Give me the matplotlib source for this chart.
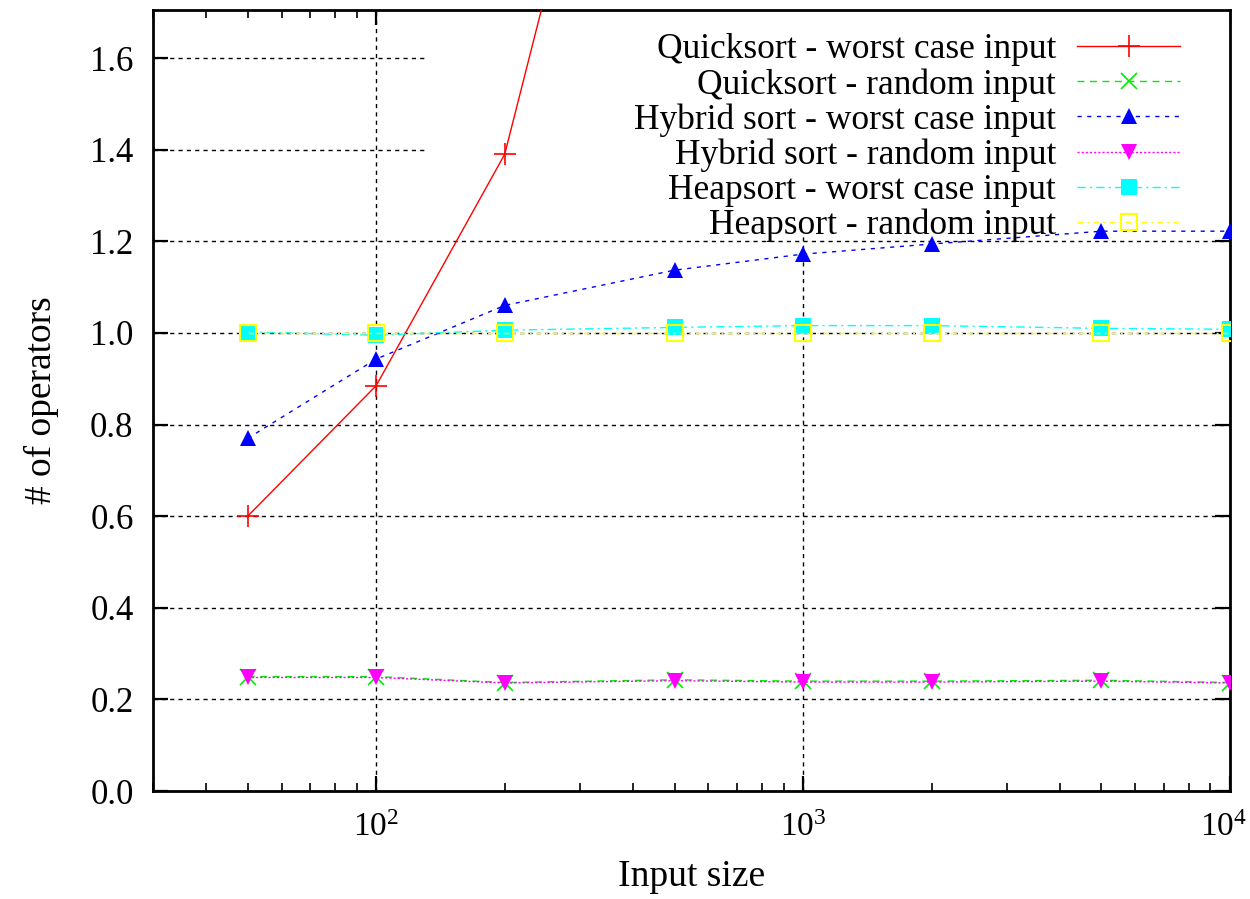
import matplotlib
matplotlib.use("Agg")
import matplotlib.pyplot as plt
import matplotlib.transforms as mtransforms
from matplotlib.patches import Rectangle

plt.rcParams['font.family'] = ['Liberation Serif', 'DejaVu Serif']
plt.rcParams['mathtext.fontset'] = 'custom'
plt.rcParams['mathtext.rm'] = 'Liberation Serif'
plt.rcParams['mathtext.it'] = 'Liberation Serif:italic'

sizes = [50, 100, 200, 500, 1000, 2000, 5000, 10000]
quick_worst = [0.60, 0.885, 1.39, 2.85, 5.1, 9.3, 21.0, 39.0]
quick_random = [0.25, 0.25, 0.237, 0.243, 0.240, 0.240, 0.242, 0.237]
hybrid_worst = [0.77, 0.943, 1.060, 1.137, 1.172, 1.194, 1.222, 1.222]
hybrid_random = [0.248, 0.248, 0.236, 0.241, 0.238, 0.238, 0.240, 0.236]
heap_worst = [1.002, 0.995, 1.006, 1.012, 1.016, 1.016, 1.010, 1.008]
heap_random = [1.0, 1.0, 1.0, 1.0, 1.0, 1.0, 1.0, 1.0]

labels = ["Quicksort - worst case input", "Quicksort - random input",
          "Hybrid sort - worst case input", "Hybrid sort - random input",
          "Heapsort - worst case input", "Heapsort - random input"]
yticks = [0.0, 0.2, 0.4, 0.6, 0.8, 1.0, 1.2, 1.4, 1.6]
xticks = [100, 1000, 10000]
xticklabels = [r"$10^2$", r"$10^3$", r"$10^4$"]

fig = plt.figure(figsize=(12.5, 8.99), dpi=100)
ax = fig.add_axes([0.1224, 0.120, 0.8616, 0.869])

ax.set_xscale('log')
ax.set_xlim(30, 10000)
ax.set_ylim(0, 1.705)

# grid
ax.set_axisbelow(True)
ax.grid(True, which='major', color='black', linestyle=(0, (3, 3)), linewidth=1.0)

# opaque key area
ax.add_patch(Rectangle((0.2525, 0.712), 0.7475, 0.288, transform=ax.transAxes,
                       facecolor='white', edgecolor='none', zorder=1))

lw = 1.0
ax.plot(sizes, quick_worst, color='#ff0000', linestyle='-', lw=lw, marker='+',
        markersize=16, markeredgewidth=1.2, label=labels[0], zorder=3)
ax.plot(sizes, quick_random, color='#00ee00', linestyle=(0, (5, 4)), lw=lw, marker='x',
        markersize=12, markeredgewidth=1.2, label=labels[1], zorder=3)
ax.plot(sizes, hybrid_worst, color='#0000ff', linestyle=(0, (3, 4)), lw=lw, marker='^',
        markersize=11, markeredgewidth=0, label=labels[2], zorder=3)
ax.plot(sizes, hybrid_random, color='#ff00ff', linestyle=(0, (1.5, 1.5)), lw=lw, marker='v',
        markersize=11, markeredgewidth=0, label=labels[3], zorder=3)
ax.plot(sizes, heap_worst, color='#00ffff', linestyle=(0, (6, 3, 1.5, 3)), lw=lw, marker='s',
        markersize=12, markeredgewidth=0, label=labels[4], zorder=3)
ax.plot(sizes, heap_random, color='#ffff00', linestyle=(0, (4, 3, 1.5, 3)), lw=lw, marker='s',
        markersize=12, markerfacecolor='none', markeredgewidth=1.5, label=labels[5], zorder=3)

ax.set_yticks(yticks)
ax.set_yticklabels([f"{v:.1f}" for v in yticks])
ax.set_xticks(xticks)
ax.set_xticklabels(xticklabels)

ax.tick_params(which='both', direction='in', top=True, right=True)
ax.tick_params(which='major', length=11, width=1.6, labelsize=25, pad=14)
ax.tick_params(which='minor', length=6, width=1.2)
ax.tick_params(axis='x', which='major', pad=15, labelsize=24)
for s in ax.spines.values():
    s.set_linewidth(2.0)

# nudge the last x tick label so it stays inside the canvas
last = ax.get_xticklabels()[-1]
last.set_transform(last.get_transform() +
                   mtransforms.ScaledTranslation(-6 / 100, 0, fig.dpi_scale_trans))

ax.set_xlabel("Input size", fontsize=27, labelpad=12)
ax.set_ylabel("# of operators", fontsize=27, labelpad=22)

leg = ax.legend(loc='upper right', frameon=False, fontsize=25.5, markerfirst=False,
                handlelength=2.9, handletextpad=0.6, labelspacing=0.05,
                borderpad=0, borderaxespad=0, bbox_to_anchor=(0.9536, 0.97))

fig.savefig("out.png", dpi=100)
